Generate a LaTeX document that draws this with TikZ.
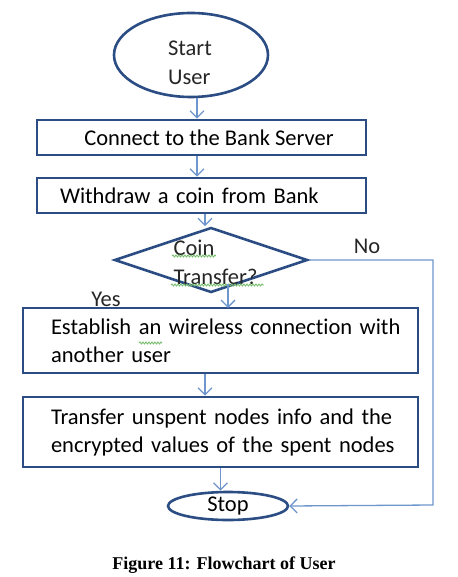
\documentclass[tikz,border=0pt]{standalone}
\usepackage{fontspec}
\setmainfont{Carlito}[Ligatures={NoCommon,NoContextual}]
\newfontfamily\capfont{Liberation Serif}
\usetikzlibrary{positioning,arrows.meta,calc,shapes.geometric,decorations.pathmorphing}
\definecolor{flowdark}{RGB}{44,77,132}
\definecolor{flowlight}{RGB}{110,150,205}
\definecolor{spellgreen}{RGB}{120,190,110}
\tikzset{
  flowshape/.style={draw=flowdark, line width=2.6pt, fill=white, inner sep=0pt},
  flowbox/.style={flowshape, rectangle, font=\fontsize{22.5}{28}\selectfont},
  flowarrow/.style={draw=flowlight, line width=1.3pt, -{Straight Barb[length=7pt, width=14pt, line width=1.3pt]}},
  flowlabel/.style={font=\fontsize{22.5}{29}\selectfont, text=black!85},
  spellmark/.style={draw=spellgreen, line width=0.9pt, decorate,
    decoration={snake, amplitude=1pt, segment length=3pt}},
}
\begin{document}
\begin{tikzpicture}[x=1pt, y=-1pt]
  \useasboundingbox (0,0) rectangle (457,577);
  \node[flowshape, ellipse, minimum width=154pt, minimum height=84pt] (start) at (191,55) {};
  \node[flowlabel, align=left, font=\fontsize{22.5}{29}\selectfont] (starttext) at (190,63) {Start\\User};
  \node[flowbox, minimum width=329pt, minimum height=35pt] (connect) at (201.5,137.5)
    {\hspace*{15pt}Connect to the Bank Server};
  \node[flowbox, minimum height=35pt, text width=305pt, inner xsep=12pt, align=left] (withdraw) at (201.5,195.5)
    {\hspace*{11pt}Withdraw a coin from Bank};
  \node[flowshape, diamond, minimum width=193pt, minimum height=65pt] (transfer) at (211,260) {};
  \node[flowlabel, align=left, anchor=west] (transfertext) at (170,262) {Coin\\Transfer?};
  \node[flowbox, minimum height=65pt, text width=367pt, inner xsep=14pt, align=left] (wireless) at (220.5,340.5)
    {\hspace*{14pt}Establish an wireless connection with\\\hspace*{14pt}another user};
  \node[flowbox, minimum height=70pt, text width=367pt, inner xsep=14pt, align=left] (spent) at (220.5,432)
    {\hspace*{14pt}Transfer unspent nodes info and the\\\hspace*{14pt}encrypted values of the spent nodes};
  \node[flowshape, ellipse, minimum width=120pt, minimum height=28pt,
    font=\fontsize{22.5}{24}\selectfont] (stop) at (228,506) {Stop};
  % spell-check marks
  \draw[spellmark] (172,256) -- (216,256);
  \draw[spellmark] (171,285) -- (264,285);
  \draw[spellmark] (139,343) -- (162,343);
  % branch labels
  \node[flowlabel] (yes) at (106,299) {Yes};
  \node[flowlabel] (no) at (367,246) {No};
  \coordinate (corner1) at (433,260);
  \coordinate (corner2) at (433,505);
  % connectors
  \draw[flowarrow] ([xshift=6pt]start.south) -- ([xshift=6pt]start.south |- connect.north);
  \draw[flowarrow] ([xshift=-4.5pt]connect.south) -- ([xshift=-4.5pt]connect.south |- withdraw.north);
  \draw[flowarrow] ([xshift=3.5pt]withdraw.south) -- ([xshift=3.5pt]withdraw.south |- transfer.north);
  \draw[flowarrow] (228,284) -- (228,308);
  \draw[flowarrow] ([xshift=-15.5pt]wireless.south) -- ([xshift=-15.5pt]wireless.south |- spent.north);
  \draw[flowarrow] (spent.south) -- (spent.south |- stop.north);
  \draw[flowarrow] (transfer.east) -- (corner1) -- (corner2) -- (stop.east);
  % caption
  \node[font=\capfont\bfseries\fontsize{18}{20}\selectfont] (caption) at (224,565) {Figure 11: Flowchart of User};
\end{tikzpicture}
\end{document}
